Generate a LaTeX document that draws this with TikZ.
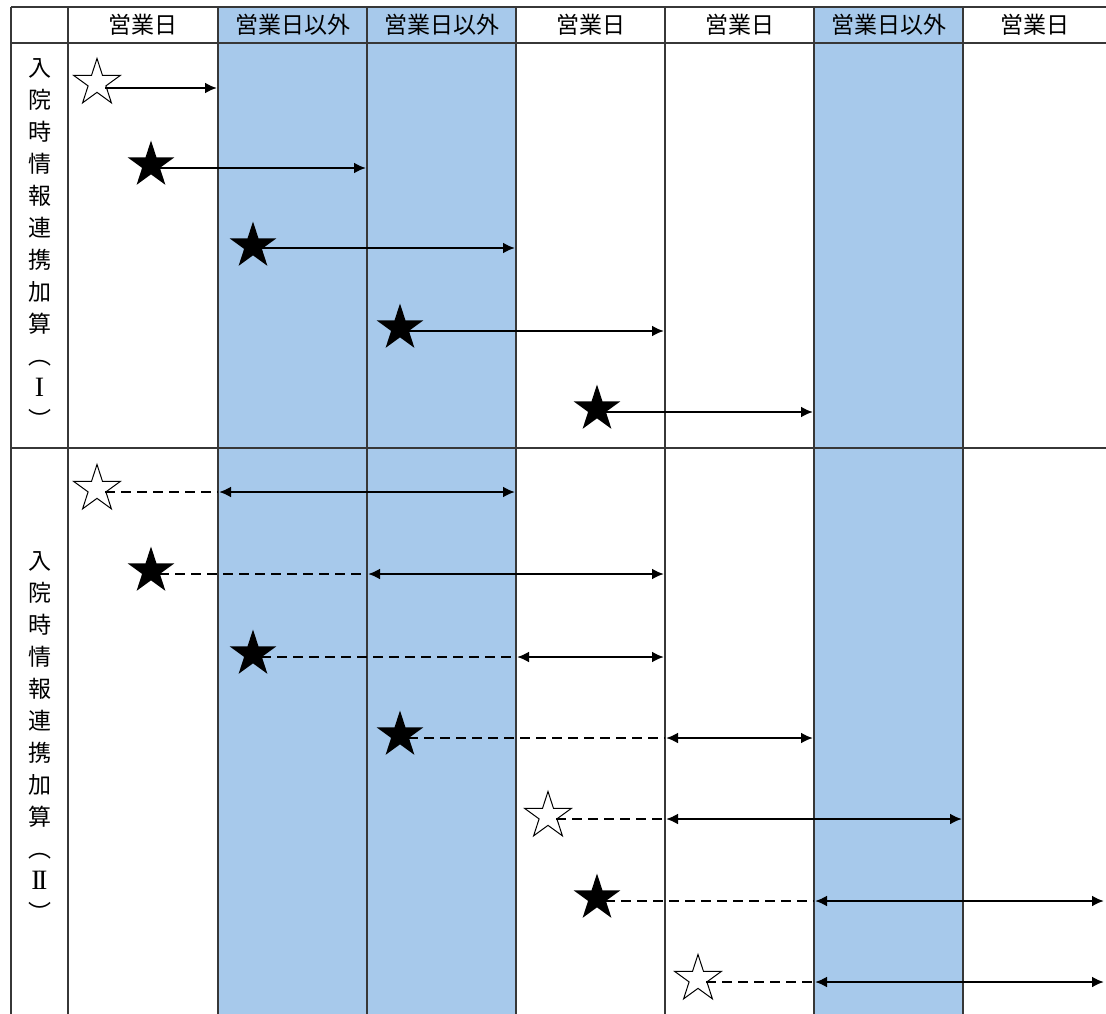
\documentclass[tikz,border=0pt]{standalone}
\usepackage{fontspec}
\newfontfamily\jp{Noto Sans CJK JP}
\newfontfamily\romanf{Liberation Serif}
\usetikzlibrary{shapes.geometric,arrows.meta,calc}
\definecolor{dayblue}{RGB}{167,201,235}
\definecolor{gridc}{RGB}{55,55,55}
\begin{document}
\begin{tikzpicture}[x=1pt,y=-1pt,
  gridline/.style={draw=gridc,line width=1.3pt},
  hdr/.style={font=\jp\fontsize{23}{23}\selectfont,inner sep=0pt},
  lbl/.style={font=\jp\fontsize{23}{32}\selectfont,align=center,inner sep=0pt},
  starbase/.style={star,star points=5,star point ratio=2.618,minimum size=49pt,inner sep=0pt},
  openstar/.style={starbase,draw=black,line width=1pt,fill=white},
  fullstar/.style={starbase,fill=black},
  solidarr/.style={line width=2.6pt,-{Latex[length=12pt,width=11pt]},shorten >=1pt},
  dblarr/.style={line width=2.6pt,{Latex[length=12pt,width=11pt]}-{Latex[length=12pt,width=11pt]},shorten >=1pt,shorten <=1pt},
  dashline/.style={line width=2.6pt,dash pattern=on 10pt off 6pt},
]
\useasboundingbox (0,0) rectangle (1106,1014);
% column boundaries
\coordinate (v0) at (68,0);
\coordinate (v1) at (218,0);
\coordinate (v2) at (367,0);
\coordinate (v3) at (516,0);
\coordinate (v4) at (665,0);
\coordinate (v5) at (814,0);
\coordinate (v6) at (963,0);
\coordinate (edge) at (1105,0);
% blue columns
\fill[dayblue] (218,7) rectangle (516,1014);
\fill[dayblue] (814,7) rectangle (963,1014);
% grid
\draw[gridline] (11,7) -- (1106,7);
\draw[gridline] (11,43) -- (1106,43);
\draw[gridline] (11,448) -- (1106,448);
\foreach \x in {11,68,218,367,516,665,814,963}
  \draw[gridline] (\x,7) -- (\x,1014);
% header
\node[hdr] (h1) at (143,25) {営業日};
\node[hdr] (h2) at (292.5,25) {営業日以外};
\node[hdr] (h3) at (441.5,25) {営業日以外};
\node[hdr] (h4) at (590.5,25) {営業日};
\node[hdr] (h5) at (739.5,25) {営業日};
\node[hdr] (h6) at (888.5,25) {営業日以外};
\node[hdr] (h7) at (1035,25) {営業日};
% row labels
\node[lbl,anchor=north] (l1) at (39.5,58) {入\\院\\時\\情\\報\\連\\携\\加\\算\\︵\\{\romanf\fontsize{28}{32}\selectfont I}\\︶};
\node[lbl,anchor=north] (l2) at (39.5,551) {入\\院\\時\\情\\報\\連\\携\\加\\算\\︵\\{\romanf\fontsize{28}{32}\selectfont I\kern-2.6pt I}\\︶};
% section I stars
\node[openstar] (s1) at (97,83) {};
\node[fullstar] (s2) at (151,165) {};
\node[fullstar] (s3) at (253,246) {};
\node[fullstar] (s4) at (400,328) {};
\node[fullstar] (s5) at (597,409) {};
\coordinate (a1) at ([shift={(8,5)}]s1.center);
\coordinate (a2) at ([shift={(8,3)}]s2.center);
\coordinate (a3) at ([shift={(8,2)}]s3.center);
\coordinate (a4) at ([shift={(8,3)}]s4.center);
\coordinate (a5) at ([shift={(8,3)}]s5.center);
\draw[solidarr] (a1) -- (a1 -| v1);
\draw[solidarr] (a2) -- (a2 -| v2);
\draw[solidarr] (a3) -- (a3 -| v3);
\draw[solidarr] (a4) -- (a4 -| v4);
\draw[solidarr] (a5) -- (a5 -| v5);
% section II stars
\node[openstar] (t1) at (97,489) {};
\node[fullstar] (t2) at (151,571) {};
\node[fullstar] (t3) at (253,654) {};
\node[fullstar] (t4) at (400,735) {};
\node[openstar] (t5) at (548,816) {};
\node[fullstar] (t6) at (597,898) {};
\node[openstar] (t7) at (698,979) {};
\coordinate (b1) at ([shift={(8,3)}]t1.center);
\coordinate (b2) at ([shift={(8,3)}]t2.center);
\coordinate (b3) at ([shift={(8,3)}]t3.center);
\coordinate (b4) at ([shift={(8,3)}]t4.center);
\coordinate (b5) at ([shift={(8,3)}]t5.center);
\coordinate (b6) at ([shift={(8,3)}]t6.center);
\coordinate (b7) at ([shift={(8,3)}]t7.center);
\draw[dashline] (b1) -- (b1 -| v1);
\draw[dashline] (b2) -- (b2 -| v2);
\draw[dashline] (b3) -- (b3 -| v3);
\draw[dashline] (b4) -- (b4 -| v4);
\draw[dashline] (b5) -- (b5 -| v4);
\draw[dashline] (b6) -- (b6 -| v5);
\draw[dashline] (b7) -- (b7 -| v5);
\draw[dblarr] (b1 -| v1) -- (b1 -| v3);
\draw[dblarr] (b2 -| v2) -- (b2 -| v4);
\draw[dblarr] (b3 -| v3) -- (b3 -| v4);
\draw[dblarr] (b4 -| v4) -- (b4 -| v5);
\draw[dblarr] (b5 -| v4) -- (b5 -| v6);
\draw[dblarr] (b6 -| v5) -- (b6 -| edge);
\draw[dblarr] (b7 -| v5) -- (b7 -| edge);
\end{tikzpicture}
\end{document}
